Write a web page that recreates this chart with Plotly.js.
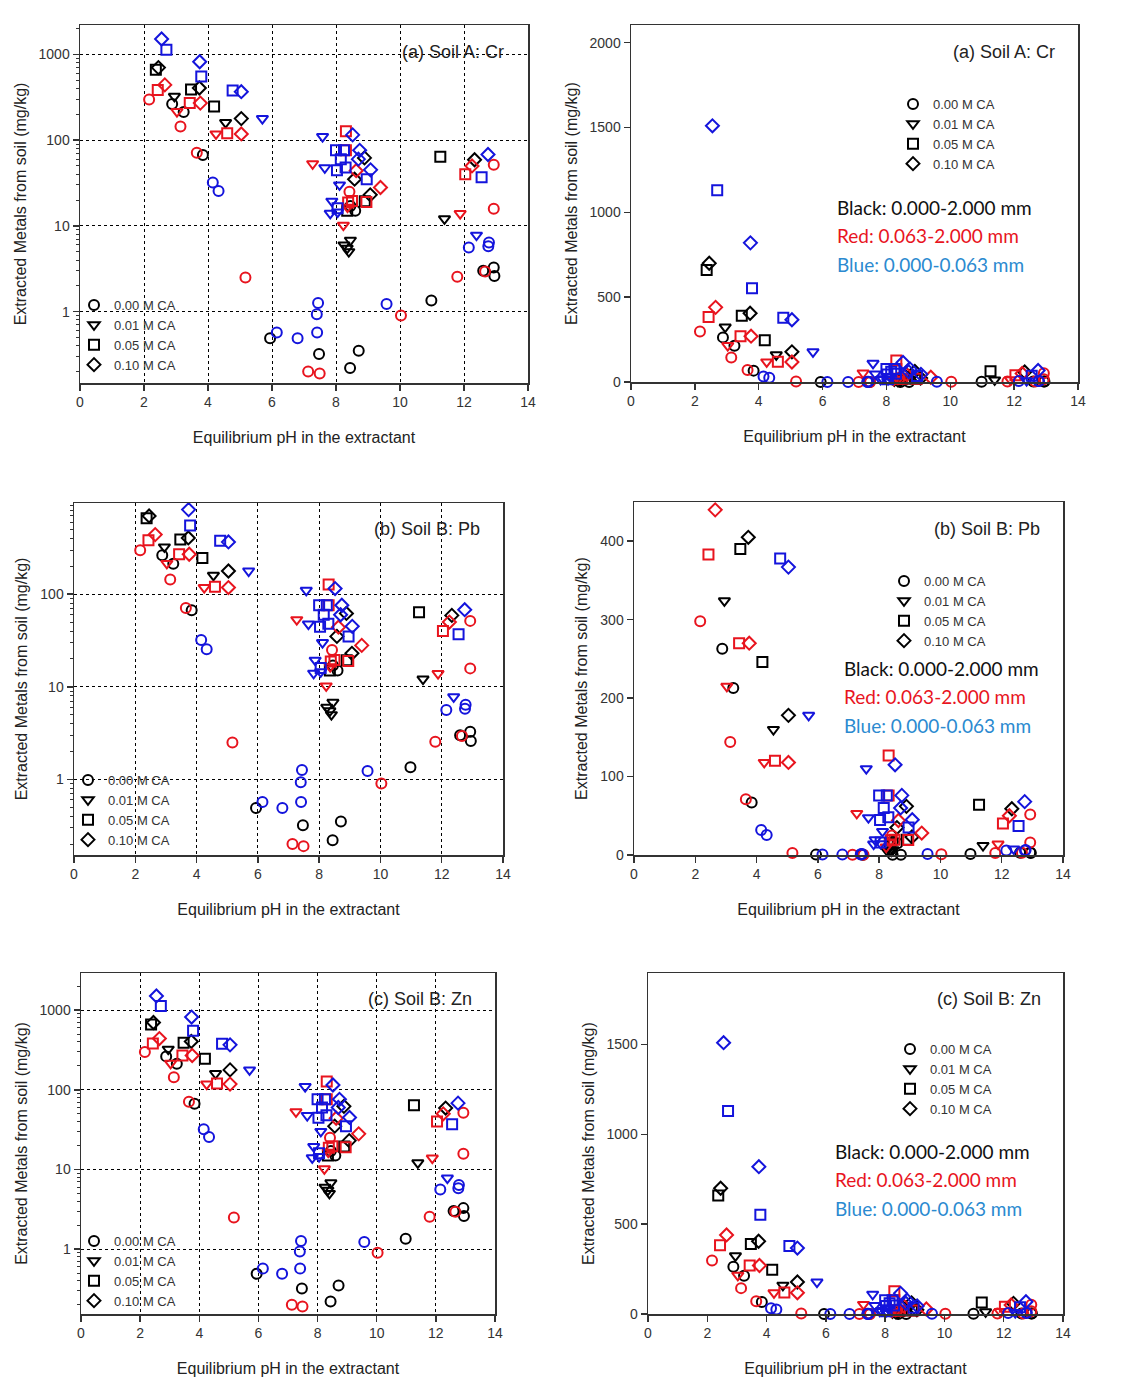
<!DOCTYPE html>
<html>
<head>
<meta charset="utf-8">
<script src="https://cdn.plot.ly/plotly-3.0.1.min.js"></script>
<style>html,body{margin:0;padding:0;background:#fff;}#chart{width:1138px;height:1388px;}</style>
</head>
<body>
<div id="chart"></div>
<script>
// ---------------- DATA (equilibrium pH, extracted metal mg/kg) ----------------
// Black: 0.000-2.000 mm
var blk000_pH  = [2.88, 3.24, 3.84, 5.94, 7.47, 8.71, 8.44, 10.98, 12.6, 12.93, 12.95, 8.45, 8.6];
var blk000_val = [263, 213, 67, 0.49, 0.32, 0.35, 0.22, 1.35, 3.0, 3.27, 2.6, 17, 15];
var blk001_pH  = [2.95, 4.55, 11.39, 8.25, 8.35, 8.45, 8.4];
var blk001_val = [324, 160, 12.1, 6.0, 5.5, 6.8, 5.0];
var blk005_pH  = [2.37, 3.47, 4.19, 11.26, 8.9, 8.35];
var blk005_val = [660, 390, 246, 64, 19.4, 15];
var blk010_pH  = [2.45, 3.73, 5.04, 8.89, 12.33, 9.07, 8.58];
var blk010_val = [700, 405, 178, 62, 59, 23, 35];
// Red: 0.063-2.000 mm
var red000_pH  = [2.16, 3.14, 3.65, 5.17, 7.13, 7.49, 10.03, 11.79, 12.66, 12.93, 12.93, 8.42];
var red000_val = [298, 144, 71, 2.5, 0.2, 0.19, 0.9, 2.55, 2.94, 15.8, 51.5, 25];
var red001_pH  = [3.03, 4.25, 7.27, 8.23, 11.88, 8.36];
var red001_val = [215, 118, 53, 10.2, 13.9, 16.5];
var red005_pH  = [2.43, 3.43, 4.6, 8.31, 12.04, 8.31, 8.38, 8.5, 8.95];
var red005_val = [383, 270, 120, 127, 40, 76, 18.7, 19.5, 19];
var red010_pH  = [2.65, 3.76, 5.04, 9.39, 12.25, 8.63];
var red010_val = [440, 270, 118, 28, 50, 44];
// Blue: 0.000-0.063 mm
var blu000_pH  = [4.15, 4.33, 6.15, 6.8, 7.44, 7.4, 7.41, 9.58, 12.15, 12.78, 12.76];
var blu000_val = [32, 25.5, 0.57, 0.49, 1.26, 0.93, 0.57, 1.23, 5.6, 6.4, 5.8];
var blu001_pH  = [5.7, 7.58, 7.65, 8.11, 7.87, 7.82, 8.05, 12.39];
var blu001_val = [178, 110, 47.6, 30, 19.4, 14, 14.5, 7.8];
var blu005_pH  = [2.7, 3.79, 4.77, 8.0, 8.25, 8.03, 8.3, 8.96, 12.55, 8.05, 8.15];
var blu005_val = [1130, 552, 378, 76, 76, 44.5, 48, 35, 37, 16, 60];
var blu010_pH  = [2.55, 3.74, 5.04, 8.52, 8.74, 9.08, 12.75, 8.7];
var blu010_val = [1510, 820, 367, 115, 76, 45, 68, 60];

var caLabels = ['0.00 M CA', '0.01 M CA', '0.05 M CA', '0.10 M CA'];
var panelLabels = ['(a) Soil A: Cr', '(a) Soil A: Cr', '(b) Soil B: Pb', '(b) Soil B: Pb', '(c) Soil B: Zn', '(c) Soil B: Zn'];
var fractionLabels = ['Black: 0.000-2.000 mm', 'Red: 0.063-2.000 mm', 'Blue: 0.000-0.063 mm'];
var xTitle = 'Equilibrium pH in the extractant';
var yTitle = 'Extracted Metals from soil (mg/kg)';
var logMajor = [1, 10, 100, 1000];
var logMinor = [0.2, 0.3, 0.4, 0.5, 0.6, 0.7, 0.8, 0.9, 2, 3, 4, 5, 6, 7, 8, 9,
                20, 30, 40, 50, 60, 70, 80, 90, 200, 300, 400, 500, 600, 700, 800, 900, 2000];

// ---------------- STYLE ----------------
var W = 1138, H = 1388;
var colBlack = '#000000', colRed = '#e8141e', colBlue = '#1414dc';
var textBlue = '#2b8ad0';
var symbols = ['circle-open', 'triangle-down-open', 'square-open', 'diamond-open'];

var series = [
  {x: blk000_pH, y: blk000_val, c: colBlack, s: 0},
  {x: blk001_pH, y: blk001_val, c: colBlack, s: 1},
  {x: blk005_pH, y: blk005_val, c: colBlack, s: 2},
  {x: blk010_pH, y: blk010_val, c: colBlack, s: 3},
  {x: red000_pH, y: red000_val, c: colRed, s: 0},
  {x: red001_pH, y: red001_val, c: colRed, s: 1},
  {x: red005_pH, y: red005_val, c: colRed, s: 2},
  {x: red010_pH, y: red010_val, c: colRed, s: 3},
  {x: blu000_pH, y: blu000_val, c: colBlue, s: 0},
  {x: blu001_pH, y: blu001_val, c: colBlue, s: 1},
  {x: blu005_pH, y: blu005_val, c: colBlue, s: 2},
  {x: blu010_pH, y: blu010_val, c: colBlue, s: 3}
];

// panel pixel boxes [left, right, top, bottom], y-type, y-range, tick values
var panels = [
  {box: [80, 528, 25, 383],  log: true,  yr: [-0.832, 3.342], tv: [1, 10, 100, 1000], ymax: null},
  {box: [631, 1078, 25, 382], log: false, yr: [0, 2104], tv: [0, 500, 1000, 1500, 2000], ymax: null},
  {box: [74, 503, 503, 855], log: true,  yr: [-0.817, 2.985], tv: [1, 10, 100], ymax: null},
  {box: [634, 1063, 502, 855], log: false, yr: [0, 450], tv: [0, 100, 200, 300, 400], ymax: 450},
  {box: [81, 495, 973, 1314], log: true,  yr: [-0.815, 3.467], tv: [1, 10, 100, 1000], ymax: null},
  {box: [648, 1063, 973, 1314], log: false, yr: [0, 1898], tv: [0, 500, 1000, 1500], ymax: null}
];

// legend positions (left px, top px) and fraction-text positions
var legendPos = [[74, 290], [893, 89], [68, 765], [884, 566], [74, 1226], [890, 1034]];
var fracPos = [null, [835, 207], null, [842, 668], null, [833, 1151]];
var labelPos = [[506, 52], [1057, 52], [482, 529], [1042, 529], [474, 999], [1043, 999]];

var data = [];
var layout = {
  width: W, height: H,
  margin: {l: 0, r: 0, t: 0, b: 0},
  paper_bgcolor: '#ffffff', plot_bgcolor: '#ffffff',
  font: {family: 'Liberation Sans, Arial, sans-serif', color: '#333333', size: 13},
  annotations: [],
  showlegend: true
};

function px2x(p) { return p / W; }
function px2y(p) { return 1 - p / H; }

panels.forEach(function (P, i) {
  var n = i + 1;
  var xa = 'x' + (n === 1 ? '' : n), ya = 'y' + (n === 1 ? '' : n);
  var xk = 'xaxis' + (n === 1 ? '' : n), yk = 'yaxis' + (n === 1 ? '' : n);

  series.forEach(function (S) {
    var yy = S.y.map(function (v) { return (P.ymax !== null && v > P.ymax) ? null : v; });
    data.push({
      type: 'scatter', mode: 'markers', x: S.x, y: yy, xaxis: xa, yaxis: ya,
      showlegend: false, hoverinfo: 'x+y', cliponaxis: P.log,
      marker: {symbol: symbols[S.s], size: 10, color: S.c, line: {color: S.c, width: 2}}
    });
  });

  // legend-only entries (symbol key)
  var legId = 'legend' + (n === 1 ? '' : n);
  caLabels.forEach(function (lab, k) {
    data.push({
      type: 'scatter', mode: 'markers', x: [null], y: [null], xaxis: xa, yaxis: ya,
      name: lab, legend: legId, showlegend: true,
      marker: {symbol: symbols[k], size: 10, color: '#000', line: {color: '#000', width: 2}}
    });
  });
  layout[legId] = {
    x: px2x(legendPos[i][0]), y: px2y(legendPos[i][1]), xanchor: 'left', yanchor: 'top',
    bgcolor: 'rgba(0,0,0,0)', borderwidth: 0, tracegroupgap: 0,
    font: {family: 'Liberation Sans, Arial, sans-serif', size: 13, color: '#333333'},
    itemclick: false, itemdoubleclick: false
  };

  var b = P.box;
  layout[xk] = {
    domain: [px2x(b[0]), px2x(b[1])], anchor: ya, range: [0, 14],
    tickmode: 'array', tickvals: [0, 2, 4, 6, 8, 10, 12, 14],
    ticks: 'outside', ticklen: 6, tickwidth: 1.5, tickcolor: '#333',
    showline: true, linecolor: '#333', linewidth: 1.5, mirror: true,
    showgrid: P.log, gridcolor: '#000', griddash: 'dot', gridwidth: 1,
    zeroline: false,
    tickfont: {size: 14, color: '#333'},
    title: {text: xTitle, font: {size: 16, color: '#222'}, standoff: 22}
  };
  var yax = {
    domain: [px2y(b[3]), px2y(b[2])], anchor: xa,
    type: P.log ? 'log' : 'linear', range: P.yr,
    tickmode: 'array', tickvals: P.log ? logMajor : P.tv, ticktext: (P.log ? logMajor : P.tv).map(String),
    ticks: 'outside', ticklen: 6, tickwidth: 1.5, tickcolor: '#333',
    showline: true, linecolor: '#333', linewidth: 1.5, mirror: true,
    showgrid: P.log, gridcolor: '#000', griddash: 'dot', gridwidth: 1,
    zeroline: false,
    tickfont: {size: 14, color: '#333'},
    title: {text: yTitle, font: {size: 16, color: '#222'}, standoff: 8}
  };
  if (P.log) {
    yax.minor = {tickmode: 'array', tickvals: logMinor, ticks: 'outside', ticklen: 3,
                 tickwidth: 1, tickcolor: '#333', showgrid: false};
  }
  layout[yk] = yax;

  layout.annotations.push({
    text: panelLabels[i], xref: 'paper', yref: 'paper',
    x: px2x(labelPos[i][0]), y: px2y(labelPos[i][1]), xanchor: 'right', yanchor: 'middle',
    showarrow: false, font: {size: 18, color: '#222', family: 'Liberation Sans, Arial, sans-serif'}
  });
  if (fracPos[i]) {
    var cols = ['#111111', colRed, textBlue];
    fractionLabels.forEach(function (t, k) {
      layout.annotations.push({
        text: t, xref: 'paper', yref: 'paper',
        x: px2x(fracPos[i][0]), y: px2y(fracPos[i][1] + k * 28.5), xanchor: 'left', yanchor: 'middle',
        showarrow: false, font: {size: 19, color: cols[k], family: 'Lato, Open Sans, sans-serif'}
      });
    });
  }
});

Plotly.newPlot('chart', data, layout, {displayModeBar: false, staticPlot: true});
</script>
</body>
</html>
